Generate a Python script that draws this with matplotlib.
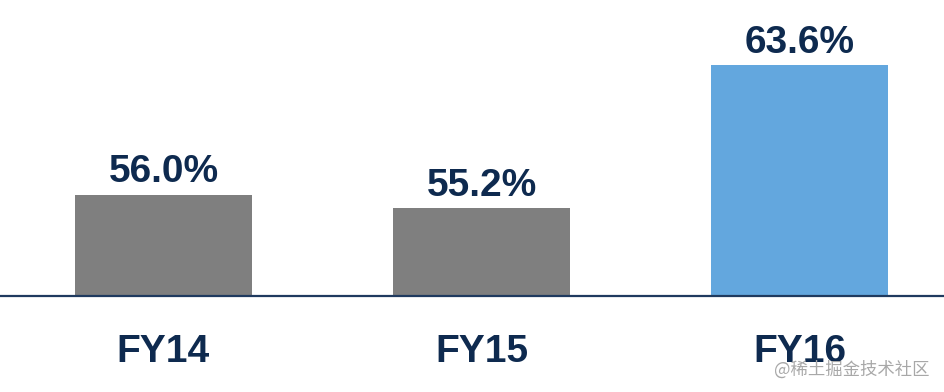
import matplotlib.pyplot as plt
from matplotlib.transforms import blended_transform_factory

# Chart data
years = ['FY14', 'FY15', 'FY16']
margins = [56.0, 55.2, 63.6]
labels = ['56.0%', '55.2%', '63.6%']
colors = ['#7f7f7f', '#7f7f7f', '#63a7de']

navy = '#0e2a4f'

def main():
    plt.rcParams['font.family'] = ['Liberation Sans', 'DejaVu Sans']

    fig = plt.figure(figsize=(9.44, 3.92), dpi=100)
    ax = fig.add_axes([0, 96 / 392, 1, 296 / 392])

    x = list(range(len(years)))
    ax.bar(x, margins, width=0.557, color=colors, bottom=0)

    ax.set_xlim(-0.514, 2.454)
    ax.set_ylim(50.05, 67.44)

    for spine in ['top', 'left', 'right']:
        ax.spines[spine].set_visible(False)
    ax.spines['bottom'].set_color('#1f3a5f')
    ax.spines['bottom'].set_linewidth(1.6)
    ax.set_xticks([])
    ax.set_yticks([])

    # value labels above the bars
    for xi, val, lab in zip(x, margins, labels):
        ax.annotate(lab, xy=(xi, val), xytext=(0, 9), textcoords='offset points',
                    ha='center', va='baseline', fontsize=28,
                    fontweight='bold', color=navy)

    # category labels under the axis
    trans = blended_transform_factory(ax.transData, ax.transAxes)
    for xi, name in zip(x, years):
        ax.annotate(name, xy=(xi, 0), xycoords=trans, xytext=(0, -47.5),
                    textcoords='offset points', ha='center', va='baseline',
                    fontsize=28, fontweight='bold', color=navy,
                    annotation_clip=False)

    # watermark (sits just under FY16, as in the source image)
    fig.text(0.985, 0.045, '@稀土掘金技术社区', ha='right', va='baseline',
             fontsize=12.5, color='#a8a8a8',
             family=['Noto Sans CJK SC', 'DejaVu Sans'])

    fig.savefig('out.png', dpi=100, facecolor='white')

if __name__ == '__main__':
    main()
